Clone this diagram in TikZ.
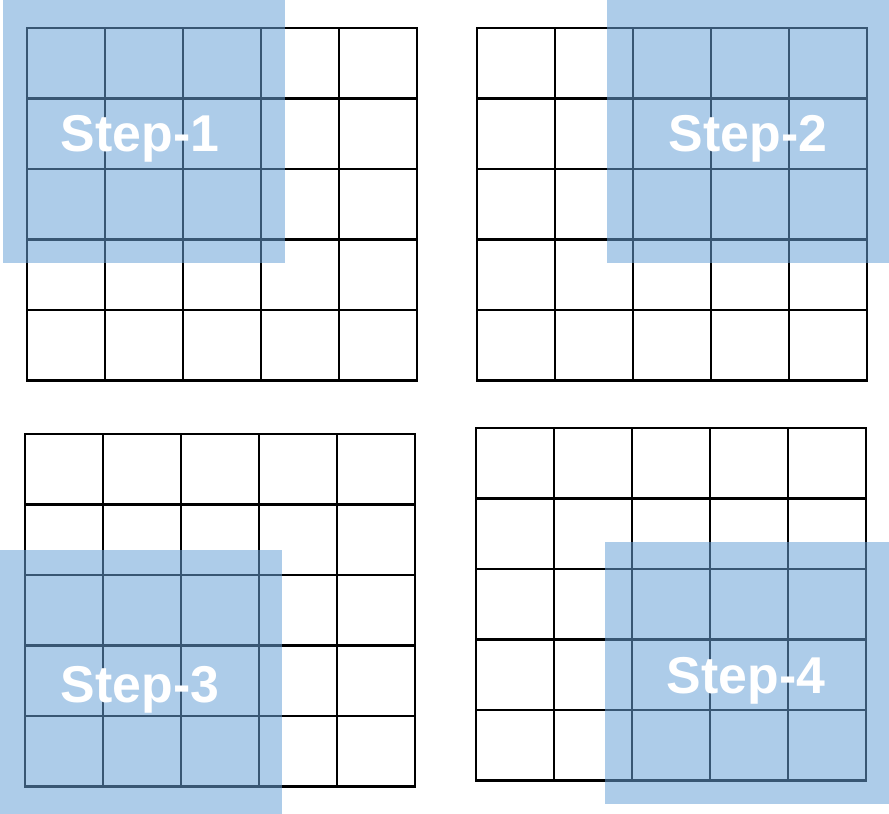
\documentclass[tikz,border=0pt]{standalone}
\usepackage{fontspec}
\setmainfont{Liberation Sans}
\usepackage{xcolor}
\usepackage{tikz}

\definecolor{windowblue}{RGB}{104,160,214}

\tikzset{
    gridline/.style={line width=2.2bp, black, line cap=rect},
    window/.style={fill=windowblue, fill opacity=0.54, draw=none},
    steplabel/.style={text=white, anchor=base, inner sep=0pt,
        font=\fontsize{52}{52}\selectfont\bfseries}
}

\begin{document}
\begin{tikzpicture}[x=1bp, y=-1bp]
    \useasboundingbox (0,0) rectangle (889,814);

    % Grids (5 x 5), top-left corner given
    \foreach \gx/\gy in {27/28, 477/28, 25/434, 476/428} {
        \begin{scope}[shift={(\gx,\gy)}]
            \foreach \i in {0,...,5} {
                \draw[gridline] (\i*78,0) -- (\i*78,352.5);
                \draw[gridline] (0,\i*70.5) -- (390,\i*70.5);
            }
        \end{scope}
    }

    % Sliding windows
    \fill[window] (3,0) rectangle (285,263);
    \fill[window] (607,0) rectangle (889,263);
    \fill[window] (0,550) rectangle (282,814);
    \fill[window] (605,542) rectangle (889,804);

    % Labels
    \node[steplabel] (step1) at (140,151.5) {Step-1};
    \node[steplabel] (step2) at (748,151.5) {Step-2};
    \node[steplabel] (step3) at (140,702) {Step-3};
    \node[steplabel] (step4) at (746,693) {Step-4};
\end{tikzpicture}
\end{document}
